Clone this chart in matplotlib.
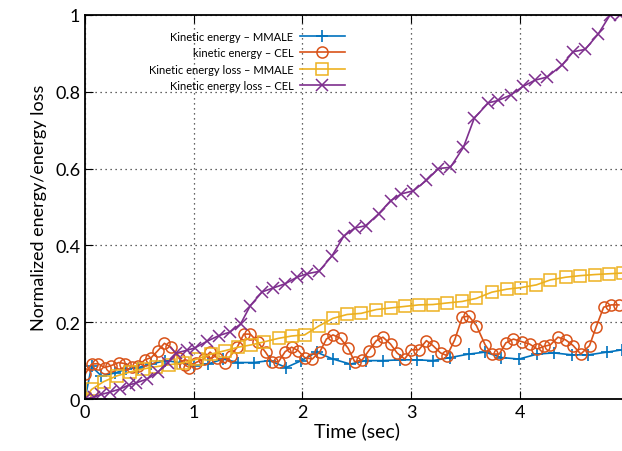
import matplotlib.pyplot as plt

# Kinetic energy - MMALE
t_ke_mmale = [0, 0.06, 0.15, 0.28, 0.38, 0.49, 0.61, 0.74, 0.87, 1.0, 1.13, 1.27, 1.41, 1.55,
              1.70, 1.85, 1.99, 2.13, 2.28, 2.44, 2.58, 2.74, 2.90, 3.05, 3.20, 3.36, 3.53,
              3.68, 3.83, 3.99, 4.16, 4.31, 4.48, 4.63, 4.80, 4.94]
ke_mmale = [0, 0.085, 0.06, 0.068, 0.078, 0.082, 0.091, 0.1, 0.095, 0.087, 0.091, 0.104, 0.095,
            0.095, 0.1, 0.082, 0.1, 0.122, 0.104, 0.091, 0.1, 0.1, 0.102, 0.102, 0.1, 0.108,
            0.117, 0.122, 0.108, 0.104, 0.117, 0.12, 0.115, 0.115, 0.122, 0.128]

# kinetic energy - CEL
t_ke_cel = [0.0, 0.06, 0.12, 0.18, 0.24, 0.31, 0.37, 0.43, 0.49, 0.55, 0.61, 0.67, 0.73, 0.79,
            0.86, 0.92, 0.96, 1.02, 1.09, 1.15, 1.21, 1.29, 1.34, 1.40, 1.46, 1.52, 1.59, 1.66,
            1.72, 1.78, 1.84, 1.90, 1.96, 2.02, 2.09, 2.16, 2.22, 2.28, 2.35, 2.42, 2.48, 2.55,
            2.61, 2.68, 2.74, 2.81, 2.87, 2.94, 3.00, 3.07, 3.14, 3.20, 3.27, 3.33, 3.40, 3.47,
            3.53, 3.60, 3.68, 3.74, 3.81, 3.87, 3.94, 4.02, 4.09, 4.16, 4.22, 4.28, 4.35, 4.42,
            4.49, 4.56, 4.64, 4.70, 4.77, 4.84, 4.91]
ke_cel = [0.065, 0.091, 0.092, 0.082, 0.087, 0.095, 0.092, 0.084, 0.086, 0.102, 0.108, 0.126,
          0.145, 0.135, 0.108, 0.088, 0.082, 0.095, 0.104, 0.122, 0.108, 0.093, 0.113, 0.135,
          0.169, 0.169, 0.148, 0.122, 0.097, 0.097, 0.123, 0.135, 0.126, 0.108, 0.104, 0.123,
          0.156, 0.167, 0.158, 0.132, 0.097, 0.102, 0.126, 0.152, 0.161, 0.143, 0.12, 0.104,
          0.128, 0.128, 0.152, 0.139, 0.12, 0.113, 0.154, 0.213, 0.216, 0.191, 0.141, 0.117,
          0.117, 0.146, 0.156, 0.149, 0.143, 0.13, 0.137, 0.141, 0.161, 0.154, 0.139, 0.117,
          0.139, 0.187, 0.239, 0.245, 0.245]

# Kinetic energy loss - MMALE
t_loss_mmale = [0, 0.06, 0.17, 0.29, 0.41, 0.53, 0.65, 0.77, 0.90, 1.03, 1.16, 1.29, 1.41, 1.53,
                1.65, 1.78, 1.90, 2.02, 2.15, 2.28, 2.41, 2.54, 2.68, 2.81, 2.94, 3.07, 3.20,
                3.33, 3.47, 3.60, 3.74, 3.88, 4.01, 4.15, 4.28, 4.42, 4.55, 4.69, 4.82, 4.95]
loss_mmale = [0, 0.025, 0.045, 0.06, 0.07, 0.078, 0.084, 0.089, 0.094, 0.104, 0.117, 0.126,
              0.135, 0.141, 0.149, 0.158, 0.164, 0.167, 0.19, 0.21, 0.22, 0.223, 0.233, 0.237,
              0.241, 0.245, 0.246, 0.25, 0.254, 0.262, 0.278, 0.286, 0.29, 0.297, 0.31, 0.317,
              0.321, 0.324, 0.326, 0.328]

# Kinetic energy loss - CEL
t_loss_cel = [0, 0.08, 0.15, 0.23, 0.32, 0.40, 0.47, 0.57, 0.67, 0.76, 0.84, 0.94, 1.01, 1.12,
              1.23, 1.33, 1.43, 1.52, 1.63, 1.73, 1.84, 1.95, 2.04, 2.15, 2.27, 2.38, 2.48,
              2.58, 2.70, 2.81, 2.91, 3.02, 3.14, 3.25, 3.36, 3.48, 3.58, 3.71, 3.80, 3.92,
              4.03, 4.14, 4.25, 4.39, 4.49, 4.60, 4.72, 4.83, 4.92]
loss_cel = [0, 0.005, 0.012, 0.018, 0.026, 0.036, 0.042, 0.052, 0.07, 0.095, 0.12, 0.127,
            0.133, 0.15, 0.165, 0.174, 0.195, 0.243, 0.279, 0.289, 0.30, 0.317, 0.326, 0.332,
            0.372, 0.424, 0.445, 0.451, 0.482, 0.516, 0.534, 0.542, 0.569, 0.60, 0.603, 0.655,
            0.731, 0.771, 0.777, 0.792, 0.814, 0.83, 0.838, 0.87, 0.904, 0.91, 0.95, 1.0, 1.0]

x_ticks = [0, 1, 2, 3, 4]
y_ticks = [0, 0.2, 0.4, 0.6, 0.8, 1.0]
y_tick_labels = ["0", "0.2", "0.4", "0.6", "0.8", "1"]

plt.rcParams['font.family'] = ['Lato', 'DejaVu Sans']

fig = plt.figure(figsize=(6.22, 4.52), dpi=100)
ax = fig.add_axes([0.1367, 0.115, 0.874, 0.85])

ax.plot(t_ke_mmale, ke_mmale, color='#0072BD', marker='+', ms=9, mew=1.2, lw=1.2,
        label='Kinetic energy – MMALE')
ax.plot(t_ke_cel, ke_cel, color='#D95319', marker='o', ms=8, mfc='none', mew=1.1, lw=1.2,
        label='kinetic energy – CEL')
ax.plot(t_loss_mmale, loss_mmale, color='#EDB120', marker='s', ms=8, mfc='none', mew=1.1, lw=1.2,
        label='Kinetic energy loss – MMALE')
ax.plot(t_loss_cel, loss_cel, color='#7E2F8E', marker='x', ms=8, mew=1.1, lw=1.2,
        label='Kinetic energy loss – CEL')

ax.set_xlim(0, 5)
ax.set_ylim(0, 1)
ax.set_xticks(x_ticks)
ax.set_yticks(y_ticks)
ax.set_yticklabels(y_tick_labels)
ax.tick_params(direction='in', top=True, right=True, labelsize=13, length=6)
ax.grid(True, linestyle=(0, (1, 3)), color='#333333', lw=0.9)
for s in ax.spines.values():
    s.set_linewidth(1.3)

ax.set_xlabel('Time (sec)', fontsize=14, labelpad=1)
ax.set_ylabel('Normalized energy/energy loss', fontsize=13, labelpad=6)

leg = ax.legend(loc='upper right', bbox_to_anchor=(0.496, 0.985), frameon=False,
                markerfirst=False, fontsize=8, handlelength=4.0, labelspacing=0.5,
                handletextpad=0.6)
for txt in leg.get_texts():
    txt.set_ha('right')

fig.savefig('out.png', dpi=100)
